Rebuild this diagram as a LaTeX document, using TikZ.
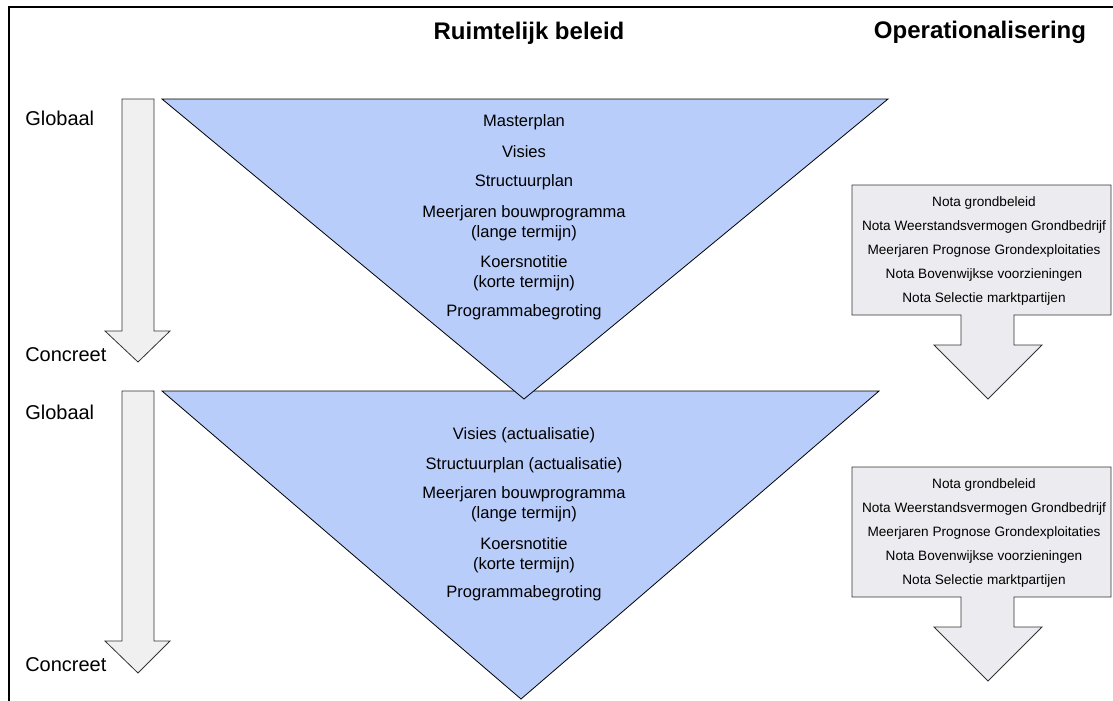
\documentclass[tikz,border=0pt]{standalone}
\usepackage{fontspec}
\setmainfont{Liberation Sans}
\definecolor{driehoekblauw}{RGB}{185,205,250}
\definecolor{pijlgrijs}{RGB}{240,240,240}
\definecolor{notagrijs}{RGB}{236,236,240}
\tikzset{
	vlak/.style={draw=black, line width=0.6pt, fill=driehoekblauw},
	pijl/.style={draw=black!80, line width=0.6pt, fill=pijlgrijs},
	nota/.style={draw=black!80, line width=0.6pt, fill=notagrijs},
	kop/.style={font=\fontsize{18}{21}\selectfont\bfseries},
	zij/.style={font=\fontsize{15}{18}\selectfont, anchor=west, inner sep=0pt},
	tekst/.style={font=\fontsize{12.4}{15}\selectfont, align=center},
	notatekst/.style={font=\fontsize{10.2}{18}\selectfont, align=center}
}
\begin{document}
\begin{tikzpicture}[x=0.75pt, y=-0.75pt]
	\useasboundingbox (0,0) rectangle (1113,700);
	\begin{scope}
		\clip (0,0) rectangle (1113,700);
		\draw[line width=1.5pt] (9,7) rectangle (1125,720);
		
		% driehoeken
		\draw[vlak] (162,391)--(879,391)--(521,699)--cycle;
		\draw[vlak] (162,99)--(888,99)--(524,399)--cycle;
		
		% pijlen links
		\foreach \t/\h/\p in {99/331/362, 391/641/673}
		{
			\draw[pijl] (122,\t)--(154,\t)--(154,\h)--(170,\h)--(138,\p)--(105,\h)--(122,\h)--cycle;
		}
		
		% nota's rechts
		\foreach \t in {185,467}
		{
			\draw[nota] (852,\t)--(1111,\t)--(1111,\t+130)--(1014,\t+130)--(1014,\t+160)--(1042,\t+160)
				--(988,\t+214)--(934,\t+160)--(961,\t+160)--(961,\t+130)--(852,\t+130)--cycle;
			\node[notatekst] (nota\t) at (984,\t+66) {Nota grondbeleid\\Nota Weerstandsvermogen Grondbedrijf\\Meerjaren Prognose Grondexploitaties\\Nota Bovenwijkse voorzieningen\\Nota Selectie marktpartijen};
		}
	\end{scope}
	
	\node[kop] (ruimtelijk) at (529,33) {Ruimtelijk beleid};
	\node[kop] (operationeel) at (980,32) {Operationalisering};
	
	\node[zij] (globaal1) at (25,118) {Globaal};
	\node[zij] (concreet1) at (25,355) {Concreet};
	\node[zij] (globaal2) at (25,412) {Globaal};
	\node[zij] (concreet2) at (25,665) {Concreet};
	
	\foreach \y/\txt [count=\i] in {122/Masterplan, 152/Visies, 182/Structuurplan, 223/{Meerjaren bouwprogramma\\(lange termijn)}, 273/{Koersnotitie\\(korte termijn)}, 312/Programmabegroting}
	{
		\node[tekst] (boven\i) at (524,\y) {\txt};
	}
	\foreach \y/\txt [count=\i] in {435/Visies (actualisatie), 465/Structuurplan (actualisatie), 504/{Meerjaren bouwprogramma\\(lange termijn)}, 555/{Koersnotitie\\(korte termijn)}, 593/Programmabegroting}
	{
		\node[tekst] (onder\i) at (524,\y) {\txt};
	}
\end{tikzpicture}
\end{document}
